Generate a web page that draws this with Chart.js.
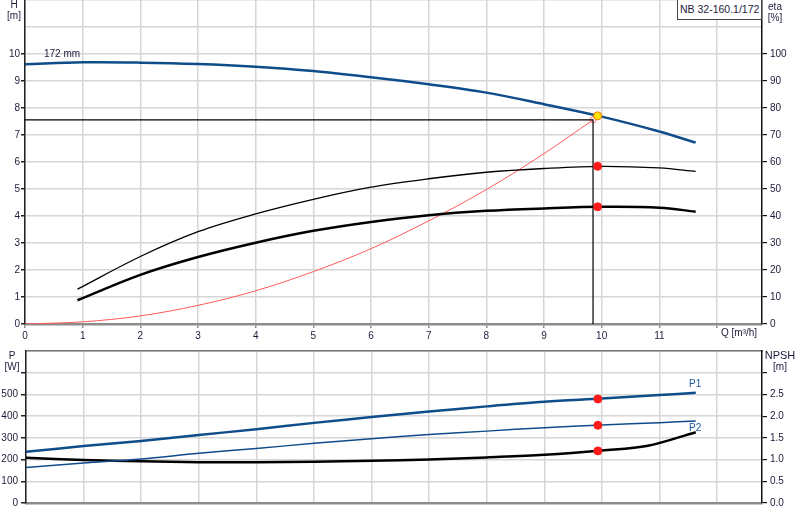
<!DOCTYPE html>
<html>
<head>
<meta charset="UTF-8">
<title>NB 32-160.1/172</title>
<script src="https://cdn.jsdelivr.net/npm/chart.js"></script>
<style>
  body {
    margin: 0;
    background: #fff;
    font-family: Arial, "Liberation Sans", sans-serif;
    color: #1b1b3a;
  }
  #page { position: relative; width: 800px; height: 520px; overflow: hidden; }
  .wrap { position: absolute; left: 0; width: 800px; }
  .unit {
    position: absolute;
    width: 40px;
    font-size: 10px;
    line-height: 11px;
    text-align: center;
    white-space: nowrap;
  }
  .note { position: absolute; font-size: 10px; line-height: 11px; white-space: nowrap; }
  #pumpName {
    position: absolute;
    left: 677px; top: -1px;
    width: 81px; height: 19px;
    border: 1px solid #444;
    background: #fff;
    font-size: 10.5px;
    line-height: 19px;
    padding-left: 2px;
    white-space: nowrap;
  }
</style>
</head>
<body>
<div id="page">
  <div class="wrap" style="top:0; height:345px"><canvas id="headChart"></canvas></div>
  <div class="wrap" style="top:345px; height:175px"><canvas id="powerChart"></canvas></div>

  <div class="unit" style="left:-6px; top:-1px">H<br>[m]</div>
  <div class="unit" style="left:755px; top:1px">eta<br>[%]</div>
  <div class="unit" style="left:-8px; top:350px">P<br>[W]</div>
  <div class="unit" style="left:760px; top:350px; font-size:11px">NPSH<br><span style="font-size:10px">[m]</span></div>
  <div id="pumpName">NB 32-160.1/172</div>
  <div class="note" style="left:44px; top:48px">172 mm</div>
  <div class="note" style="left:721px; top:327px">Q [m³/h]</div>
  <div class="note" style="left:689px; top:378px; color:#1f5a9a">P1</div>
  <div class="note" style="left:689px; top:422px; color:#1f5a9a">P2</div>
</div>

<script>
  // x range of both diagrams (m³/h)
  const qMax = 12.78;

  // duty point (cross lines) and operating point (markers)
  const dutyQ = 9.85;
  const dutyH = 7.56;
  const opQ = 9.93;
  const opHead = 7.71;
  const opEtaPump = 58.4;
  const opEtaTotal = 43.4;
  const opP1 = 479;
  const opP2 = 358;
  const opNpsh = 1.2;

  // pump curve H (m)
  const qHead = [0, 1, 2, 3, 4, 5, 6, 7, 8, 9, 10, 11, 11.63];
  const head  = [9.62, 9.69, 9.68, 9.63, 9.53, 9.37, 9.14, 8.88, 8.57, 8.14, 7.68, 7.13, 6.72];

  // system curve (m)
  const qSystem = [0, 1, 2, 3, 4, 5, 6, 7, 8, 9, 9.85];
  const hSystem = [0, 0.08, 0.3, 0.69, 1.23, 1.94, 2.79, 3.82, 4.98, 6.31, 7.56];

  // efficiencies (%)
  const qEta       = [0.91, 2, 3, 4, 5, 6, 7, 8, 9, 10, 11, 11.63];
  const etaPump    = [12.9, 25.0, 34.2, 40.8, 46.2, 50.7, 53.8, 56.2, 57.6, 58.4, 57.8, 56.5];
  const etaTotal   = [8.8, 18.2, 24.8, 30.1, 34.5, 37.8, 40.3, 41.9, 42.8, 43.4, 43.1, 41.6];

  // power (W)
  const qPower = [0, 1, 2, 3, 4, 5, 6, 7, 8, 9, 10, 11, 11.63];
  const powerP1 = [236, 262, 286, 313, 340, 369, 396, 421, 445, 466, 481, 497, 508];
  const powerP2 = [164, 184, 203, 229, 251, 275, 296, 315, 331, 347, 359, 370, 378];

  // NPSH (m)
  const qNpsh = [0, 1, 2, 3, 4, 5, 6, 7, 8, 9, 10, 10.8, 11.63];
  const npsh  = [1.04, 0.99, 0.96, 0.94, 0.94, 0.95, 0.97, 1.0, 1.05, 1.11, 1.21, 1.32, 1.63];

  const BLUE = '#0f4c8a';
  const GRID = '#d6d6d6';
  const INK = '#1b1b3a';
  const NONE = 'rgba(0,0,0,0)';

  Chart.defaults.font.family = 'Arial, "Liberation Sans", sans-serif';
  Chart.defaults.font.size = 10;
  Chart.defaults.color = INK;

  const pts = (xs, ys) => xs.map((x, i) => ({x: x, y: ys[i]}));

  // fixed axis sizes so both plot areas line up
  const fixW = w => s => { s.width = w; s.paddingTop = 0; s.paddingBottom = 0; };
  const fixH = h => s => { s.height = h; s.paddingLeft = 0; s.paddingRight = 0; };

  const curve = (data, color, width, axis) => ({
    data: data,
    yAxisID: axis,
    borderColor: color,
    borderWidth: width,
    pointRadius: 0,
    tension: 0.35,
    fill: false
  });

  const marker = (x, y, axis, fill, border) => ({
    data: [{x: x, y: y}],
    yAxisID: axis,
    showLine: false,
    pointRadius: 4,
    pointBackgroundColor: fill,
    pointBorderColor: border,
    pointBorderWidth: 1
  });

  const common = {
    responsive: true,
    maintainAspectRatio: false,
    animation: false,
    events: [],
    plugins: { legend: { display: false }, tooltip: { enabled: false } }
  };

  new Chart(document.getElementById('headChart'), {
    type: 'line',
    data: {
      datasets: [
        marker(opQ, opHead, 'y', '#ffe600', '#ff7a00'),
        marker(opQ, opEtaPump, 'eta', '#ff1a1a', '#ff1a1a'),
        marker(opQ, opEtaTotal, 'eta', '#ff1a1a', '#ff1a1a'),
        curve(pts(qHead, head), BLUE, 2.5, 'y'),
        curve(pts(qEta, etaPump), '#000', 1.3, 'eta'),
        curve(pts(qEta, etaTotal), '#000', 2.5, 'eta'),
        {
          data: [{x: 0, y: dutyH}, {x: dutyQ, y: dutyH}, {x: dutyQ, y: 0}],
          yAxisID: 'y',
          borderColor: '#000',
          borderWidth: 1.2,
          pointRadius: 0,
          tension: 0
        },
        {
          data: pts(qSystem, hSystem),
          yAxisID: 'y',
          borderColor: '#ff5a5a',
          borderWidth: 1,
          tension: 0.35,
          pointRadius: ctx => ctx.dataIndex === qSystem.length - 1 ? 3 : 0,
          pointBackgroundColor: NONE,
          pointBorderColor: '#ff7070'
        }
      ]
    },
    options: {
      ...common,
      layout: { padding: 0, autoPadding: false },
      scales: {
        x: {
          type: 'linear', min: 0, max: qMax,
          ticks: { stepSize: 1, includeBounds: false, autoSkip: false, maxRotation: 0, padding: 2,
                   callback: v => v <= 11 ? v : '' },
          grid: { color: GRID, lineWidth: 1.5, tickLength: 4, tickColor: '#8c8c8c' },
          border: { color: '#8c8c8c', width: 2.5 },
          afterFit: fixH(21)
        },
        y: {
          position: 'left', min: 0, max: 12,
          ticks: { stepSize: 1, padding: 1, callback: v => v <= 10 ? v : '' },
          grid: { color: GRID, lineWidth: 1.5, tickLength: 4,
                  tickColor: ctx => ctx.tick && ctx.tick.value <= 10 ? '#222' : NONE },
          border: { color: '#222', width: 1.5 },
          afterFit: fixW(25)
        },
        eta: {
          position: 'right', min: 0, max: 120,
          ticks: { stepSize: 10, padding: 3, callback: v => v <= 100 ? v : '' },
          grid: { drawOnChartArea: false, tickLength: 5, lineWidth: 1.2,
                  tickColor: ctx => ctx.tick && ctx.tick.value <= 100 ? '#111' : NONE },
          border: { color: '#111', width: 1.5 },
          afterFit: fixW(38)
        }
      }
    }
  });

  new Chart(document.getElementById('powerChart'), {
    type: 'line',
    data: {
      datasets: [
        marker(opQ, opP1, 'y', '#ff1a1a', '#ff1a1a'),
        marker(opQ, opP2, 'y', '#ff1a1a', '#ff1a1a'),
        marker(opQ, opNpsh, 'npsh', '#ff1a1a', '#ff1a1a'),
        curve(pts(qPower, powerP1), BLUE, 2.5, 'y'),
        curve(pts(qPower, powerP2), BLUE, 1.5, 'y'),
        curve(pts(qNpsh, npsh), '#000', 2.5, 'npsh')
      ]
    },
    options: {
      ...common,
      layout: { padding: { top: 6, bottom: 0, left: 0, right: 0 }, autoPadding: false },
      scales: {
        x: {
          type: 'linear', min: 0, max: qMax,
          ticks: { stepSize: 1, includeBounds: false, autoSkip: false, callback: () => '' },
          grid: { color: GRID, lineWidth: 1.5, drawTicks: false },
          border: { color: '#8c8c8c', width: 2.5 },
          afterFit: fixH(17)
        },
        xTop: {
          type: 'linear', position: 'top', min: 0, max: qMax,
          ticks: { display: false },
          grid: { drawOnChartArea: false, drawTicks: false },
          border: { color: '#777', width: 1.5 },
          afterFit: fixH(0)
        },
        y: {
          position: 'left', min: 0, max: 700,
          ticks: { stepSize: 100, padding: 3, callback: v => v <= 500 ? v : '' },
          grid: { color: GRID, lineWidth: 1.5, tickLength: 5,
                  tickColor: ctx => ctx.tick && ctx.tick.value <= 600 ? '#222' : NONE },
          border: { color: '#222', width: 1.5 },
          afterFit: fixW(26)
        },
        npsh: {
          position: 'right', min: 0, max: 3.5,
          ticks: { stepSize: 0.5, padding: 3, callback: v => v <= 2.5 ? v.toFixed(1) : '' },
          grid: { drawOnChartArea: false, tickLength: 5, lineWidth: 1.2,
                  tickColor: ctx => ctx.tick && ctx.tick.value <= 3 ? '#111' : NONE },
          border: { color: '#111', width: 1.5 },
          afterFit: fixW(38)
        }
      }
    }
  });
</script>
</body>
</html>
